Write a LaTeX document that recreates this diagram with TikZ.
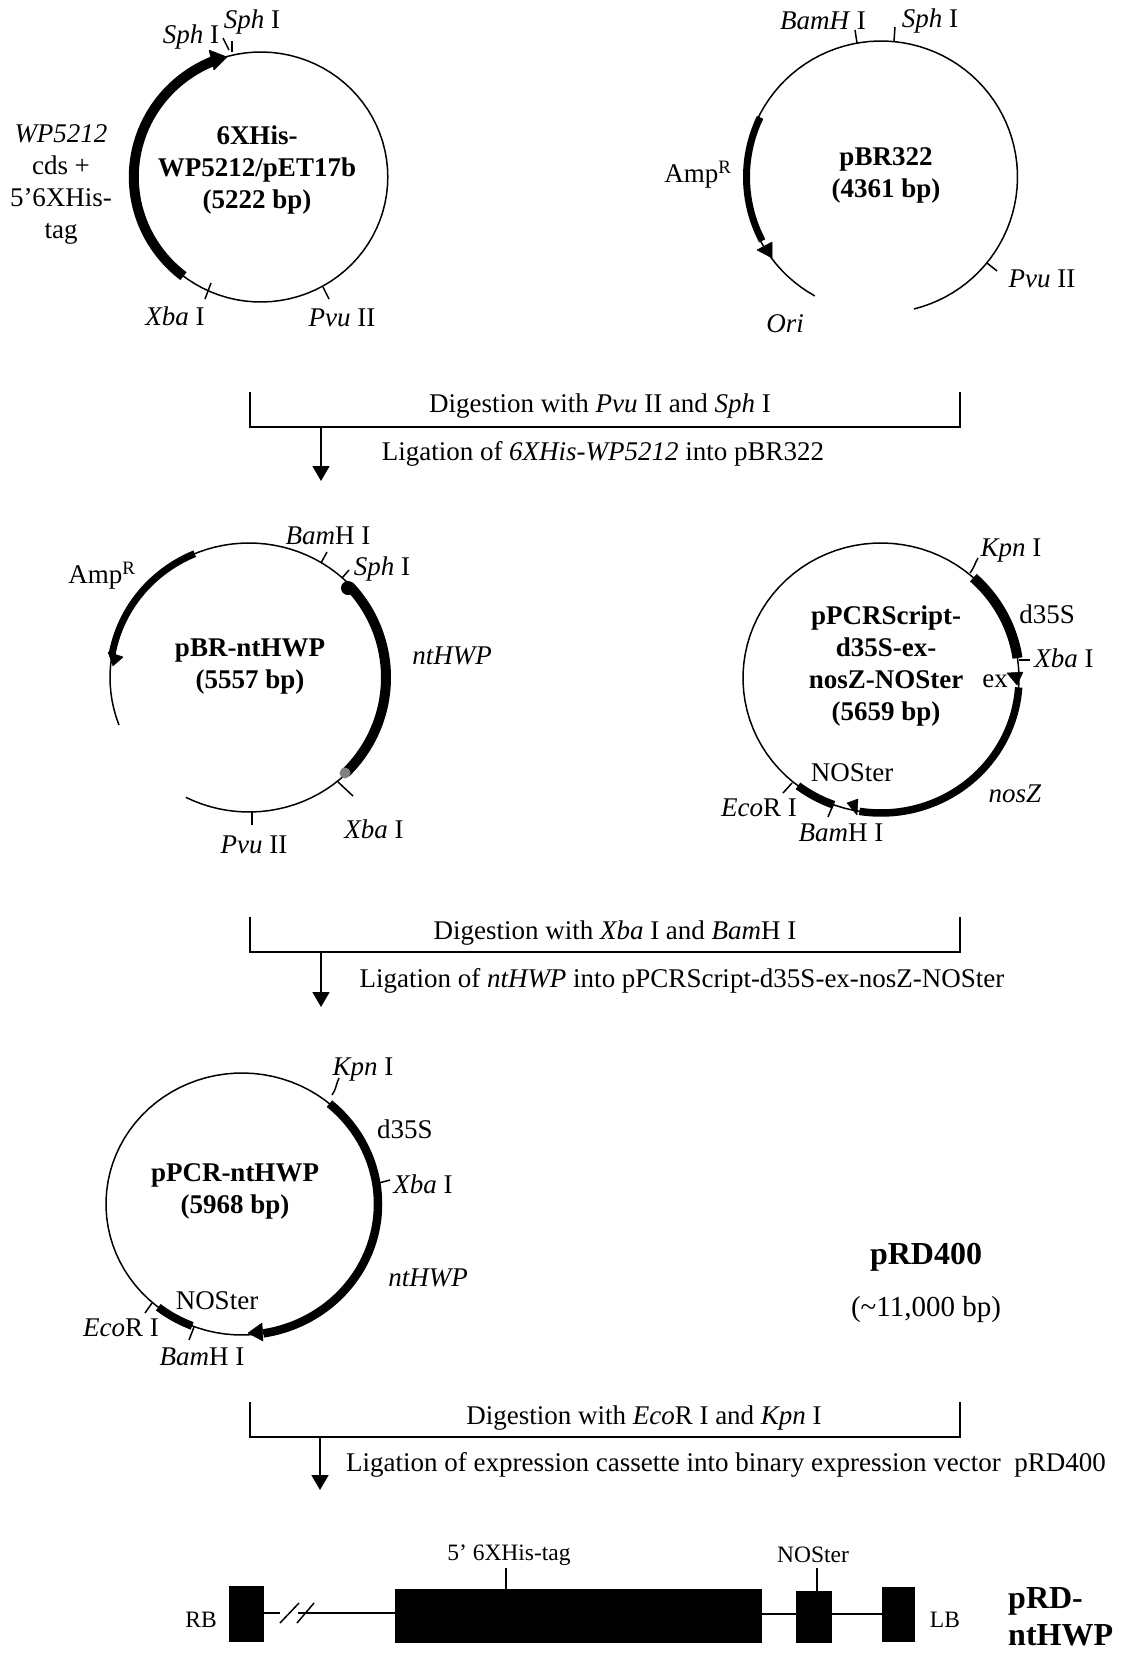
\documentclass[tikz,border=0pt]{standalone}
\usepackage{fontspec}
\setmainfont{Liberation Serif}
\usetikzlibrary{arrows.meta}
% arc of an elliptical ring: [style]{cx}{cy}{rx}{ry}{start}{end}
\newcommand\ringarc[7][]{\draw[#1] plot[domain=#6:#7,samples=90] ({#2+#4*cos(\x)},{#3-#5*sin(\x)});}
\tikzset{
  x=1pt,y=-1pt,
  thin line/.style={line width=1.5pt,black},
  head/.style={fill=black,draw=black,line width=.5pt,line join=round},
  lab/.style={font=\fontsize{27}{32}\selectfont,inner sep=0pt,align=center},
  title/.style={font=\fontsize{27}{32}\selectfont\bfseries,inner sep=0pt,align=center},
  bigtitle/.style={font=\fontsize{32}{37}\selectfont\bfseries,inner sep=0pt,align=left},
  small/.style={font=\fontsize{23.5}{28}\selectfont,inner sep=0pt},
  stepbracket/.style={line width=1.6pt},
  steparrow/.style={line width=1.7pt,-{Triangle[length=15pt,width=17pt]}},
}
\begin{document}
\begin{tikzpicture}
\useasboundingbox (0,0) rectangle (1121,1654);
% ---------- Plasmid 1
\ringarc[thin line]{260.8}{177}{127}{125}{0}{360}
\ringarc[line width=10pt]{260.8}{177}{127}{125}{112}{232.5}
\draw[head] (209,50) -- (227,57) -- (214,70) -- cycle;
\draw[thin line] (229,50) -- (223,38);
\draw[thin line] (232,52) -- (232,41);
\draw[thin line] (205,299) -- (211,283);
\draw[thin line] (323,287) -- (329,299);
\node[lab] (p1a) at (191,37) {\textit{Sph} I};
\node[lab] (p1b) at (252,22) {\textit{Sph} I};
\node[lab] (p1c) at (61,184) {\textit{WP5212}\\cds +\\5’6XHis-\\tag};
\node[title] (p1t) at (257,170) {6XHis-\\WP5212/pET17b\\(5222 bp)};
\node[lab] (p1d) at (175,316) {\textit{Xba} I};
\node[lab] (p1e) at (342,318) {\textit{Pvu} II};
% ---------- Plasmid 2
\ringarc[thin line]{881}{177}{136.5}{136}{-76}{241}
\ringarc[line width=7pt]{881}{177}{134.5}{136}{154}{208}
\draw[head] (757,250) -- (772,242) -- (772,258) -- cycle;
\draw[thin line] (855,30) -- (857,43);
\draw[thin line] (895,27) -- (894,41);
\draw[thin line] (987,263) -- (997,271);
\node[lab] (p2a) at (823,21) {\textit{BamH} I};
\node[lab] (p2b) at (930,21) {\textit{Sph} I};
\node[lab] (p2c) at (698,175) {Amp\textsuperscript{R}};
\node[title] (p2t) at (886,175) {pBR322\\(4361 bp)};
\node[lab] (p2d) at (1042,279) {\textit{Pvu} II};
\node[lab] (p2e) at (785,324) {\textit{Ori}};
% ---------- Bracket 1
\coordinate (b1a) at (250,392); \coordinate (b1b) at (250,427);
\coordinate (b1c) at (960,427); \coordinate (b1d) at (960,392);
\coordinate (b1e) at (321,427); \coordinate (b1f) at (321,481);
\draw[stepbracket] (b1a) -- (b1b) -- (b1c) -- (b1d);
\draw[steparrow] (b1e) -- (b1f);
\node[lab] (b1t) at (600,406) {Digestion with \textit{Pvu} II and \textit{Sph} I};
\node[lab] (b1l) at (603,454) {Ligation of \textit{6XHis-WP5212} into pBR322};
% ---------- Plasmid 3
\ringarc[thin line]{249}{677.5}{139}{134.5}{-117}{200.7}
\ringarc[line width=7pt]{249}{677.5}{139}{134.5}{113}{170}
\draw[head] (108,652) -- (123,657) -- (113,666) -- cycle;
\ringarc[line width=10pt]{249}{677.5}{137}{134.5}{-45}{43}
\fill (348,588) circle (7);
\fill[gray] (345,773) circle (5.5);
\draw[thin line] (321,563) -- (327,552);
\draw[thin line] (342,578) -- (349,570);
\draw[thin line] (338,782) -- (353,796);
\draw[thin line] (252,812) -- (252,825);
\node[lab] (p3a) at (328,536) {\textit{Bam}H I};
\node[lab] (p3b) at (382,569) {\textit{Sph} I};
\node[lab] (p3c) at (102,576) {Amp\textsuperscript{R}};
\node[lab] (p3d) at (452,656) {\textit{ntHWP}};
\node[title] (p3t) at (250,667) {pBR-ntHWP\\(5557 bp)};
\node[lab] (p3e) at (374,829) {\textit{Xba} I};
\node[lab] (p3f) at (254,845) {\textit{Pvu} II};
% ---------- Plasmid 4
\ringarc[thin line]{881}{678}{138}{135}{0}{360}
\ringarc[line width=10pt]{881}{678}{138}{135}{8.5}{48}
\draw[head] (1007,673) -- (1023,672) -- (1017,685) -- cycle;
\ringarc[line width=7.5pt]{881}{678}{138}{135}{-99}{-4}
\draw[head] (847,803) -- (858,799) -- (857,815) -- cycle;
\ringarc[line width=8pt]{881}{678}{138}{135}{233}{250}
\draw[thin line] (970,573) .. controls (974,568) and (975,563) .. (978,558);
\draw[thin line] (1019,660) -- (1030,660);
\draw[thin line] (792,783) -- (783,793);
\draw[thin line] (833,805) -- (828,817);
\node[lab] (p4a) at (1011,551) {\textit{Kpn} I};
\node[lab] (p4b) at (1047,614) {d35S};
\node[lab] (p4c) at (1064,658) {\textit{Xba} I};
\node[lab] (p4d) at (995,681) {ex};
\node[title] (p4t) at (886,666) {pPCRScript-\\d35S-ex-\\nosZ-NOSter\\(5659 bp)};
\node[lab] (p4e) at (852,773) {NOSter};
\node[lab] (p4f) at (1015,794) {\textit{nosZ}};
\node[lab] (p4g) at (759,808) {\textit{Eco}R I};
\node[lab] (p4h) at (841,833) {\textit{Bam}H I};
% ---------- Bracket 2
\coordinate (b2a) at (250,917); \coordinate (b2b) at (250,952);
\coordinate (b2c) at (960,952); \coordinate (b2d) at (960,917);
\coordinate (b2e) at (321,952); \coordinate (b2f) at (321,1007);
\draw[stepbracket] (b2a) -- (b2b) -- (b2c) -- (b2d);
\draw[steparrow] (b2e) -- (b2f);
\node[lab] (b2t) at (615,933) {Digestion with \textit{Xba} I and \textit{Bam}H I};
\node[lab] (b2l) at (682,981) {Ligation of \textit{ntHWP} into pPCRScript-d35S-ex-nosZ-NOSter};
% ---------- Plasmid 5
\ringarc[thin line]{242}{1204}{136}{131}{0}{360}
\ringarc[line width=8.5pt]{242}{1204}{136}{131}{-81}{50}
\draw[head] (248,1333) -- (262,1323) -- (263,1341) -- cycle;
\ringarc[line width=8pt]{242}{1204}{136}{131}{232}{248.5}
\draw[thin line] (332,1095) .. controls (336,1090) and (336,1084) .. (339,1078);
\draw[thin line] (379,1183) -- (390,1180);
\draw[thin line] (152,1303) -- (145,1313);
\draw[thin line] (194,1327) -- (189,1340);
\node[lab] (p5a) at (363,1070) {\textit{Kpn} I};
\node[lab] (p5b) at (405,1129) {d35S};
\node[lab] (p5c) at (423,1184) {\textit{Xba} I};
\node[title] (p5t) at (235,1191) {pPCR-ntHWP\\(5968 bp)};
\node[lab] (p5d) at (428,1278) {\textit{ntHWP}};
\node[lab] (p5e) at (217,1301) {NOSter};
\node[lab] (p5f) at (121,1328) {\textit{Eco}R I};
\node[lab] (p5g) at (202,1357) {\textit{Bam}H I};
\node[font=\fontsize{32}{38}\selectfont\bfseries,inner sep=0pt] (p6t) at (926,1257) {pRD400};
\node[font=\fontsize{29}{32}\selectfont,inner sep=0pt] (p6s) at (926,1310) {(\textasciitilde 11,000 bp)};
% ---------- Bracket 3
\coordinate (b3a) at (250,1402); \coordinate (b3b) at (250,1437);
\coordinate (b3c) at (960,1437); \coordinate (b3d) at (960,1402);
\coordinate (b3e) at (320,1437); \coordinate (b3f) at (320,1490);
\draw[stepbracket] (b3a) -- (b3b) -- (b3c) -- (b3d);
\draw[steparrow] (b3e) -- (b3f);
\node[lab] (b3t) at (644,1418) {Digestion with \textit{Eco}R I and \textit{Kpn} I};
\node[lab] (b3l) at (726,1465) {Ligation of expression cassette into binary expression vector~~pRD400};
% ---------- Linear map
\fill (229,1586) rectangle (264,1642);
\fill (395,1589) rectangle (762,1643);
\fill (796,1591) rectangle (832,1643);
\fill (882,1587) rectangle (915,1642);
\draw[line width=2.3pt] (264,1613) -- (280,1613);
\draw[line width=2.3pt] (298,1613) -- (395,1613);
\draw[line width=2.3pt] (761,1614) -- (796,1614);
\draw[line width=2.3pt] (832,1614) -- (882,1614);
\draw[thin line] (280,1623) -- (299,1603);
\draw[thin line] (297,1623) -- (314,1603);
\draw[thin line] (506,1568) -- (506,1590);
\draw[thin line] (817,1568) -- (817,1591);
\node[small] (m1) at (509,1555) {5’ 6XHis-tag};
\node[small] (m2) at (813,1555) {NOSter};
\node[small] (m3) at (201,1620) {RB};
\node[small] (m4) at (945,1620) {LB};
\node[bigtitle,anchor=south west] (m5) at (1008,1646) {pRD-\\ntHWP};
\end{tikzpicture}
\end{document}
